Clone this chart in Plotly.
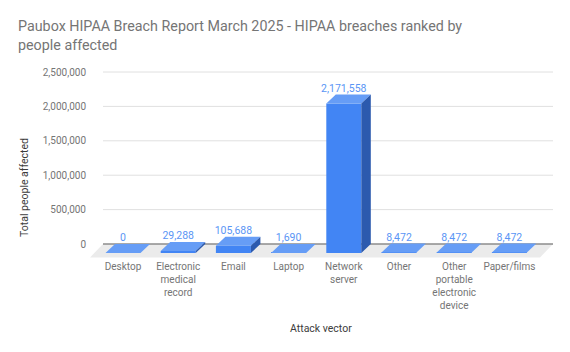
import plotly.graph_objects as go

categories = ["Desktop", "Electronic<br>medical<br>record", "Email", "Laptop",
              "Network<br>server", "Other", "Other<br>portable<br>electronic<br>device", "Paper/films"]
values = [0, 29288, 105688, 1690, 2171558, 8472, 8472, 8472]
y_ticks = [0, 500000, 1000000, 1500000, 2000000, 2500000]
y_ticktext = [f"{t:,}" for t in y_ticks]
labels = [f"{v:,}" for v in values]

W, H = 570, 352
# plot area (px)
Lp, Rp, Tp, Bp = 87, 558, 62, 259
# projection anchors (px)
X0_PX, X_STEP = 123.0, 55.2          # category 0 centre, spacing
Y0_PX, PX_PER_UNIT = 244.0, 172.0 / 2.5e6

x_lo = (Lp - X0_PX) / X_STEP
x_hi = (Rp - X0_PX) / X_STEP
y_lo = (Y0_PX - Bp) / PX_PER_UNIT
y_hi = (Y0_PX - Tp) / PX_PER_UNIT

def xu(px):  # pixel distance -> x units
    return px / X_STEP
def yu(px):  # pixel distance -> y units
    return px / PX_PER_UNIT

hw = xu(17.5)        # half bar width
ddx = xu(9.5)        # bar depth offset
ddy = yu(9.0)
wall_l = xu(103 - X0_PX)
wall_r = xu(553 - X0_PX)
fdx, fdy = xu(13), yu(13.5)

idx = list(range(len(categories)))

fig = go.Figure()

# front faces
fig.add_trace(go.Bar(x=idx, y=values, base=[-ddy] * len(values), width=2 * hw,
                     marker=dict(color="#4285F4", line=dict(width=0)), hoverinfo="skip"))

# top faces
tx, ty = [], []
for i, v in zip(idx, values):
    tx += [i - hw, i + hw, i + hw + ddx, i - hw + ddx, i - hw, None]
    ty += [v - ddy, v - ddy, v, v, v - ddy, None]
fig.add_trace(go.Scatter(x=tx, y=ty, mode="lines", fill="toself", fillcolor="#669DF6",
                         line=dict(width=0, color="#669DF6"), hoverinfo="skip"))
# side faces
sx, sy = [], []
for i, v in zip(idx, values):
    if v <= 0:
        continue
    sx += [i + hw, i + hw + ddx, i + hw + ddx, i + hw, i + hw, None]
    sy += [-ddy, 0, v, v - ddy, -ddy, None]
fig.add_trace(go.Scatter(x=sx, y=sy, mode="lines", fill="toself", fillcolor="#2C5AAE",
                         line=dict(width=0, color="#2C5AAE"), hoverinfo="skip"))

# data labels
fig.add_trace(go.Scatter(x=idx, y=values, mode="text", text=labels, textposition="top center",
                         textfont=dict(family="Roboto", size=10.5, color="#5A95F5"),
                         cliponaxis=False, hoverinfo="skip"))

shapes = []
for t in y_ticks[1:]:
    shapes.append(dict(type="line", xref="x", yref="y", x0=wall_l, x1=wall_r, y0=t, y1=t,
                       line=dict(color="#E0E0E0", width=1), layer="below"))
shapes.append(dict(type="path", xref="x", yref="y", layer="below",
                   path=f"M {wall_l} 0 L {wall_r} 0 L {wall_r - fdx} {-fdy} L {wall_l - fdx} {-fdy} Z",
                   fillcolor="#EBEBEB", line=dict(width=0)))
shapes.append(dict(type="line", xref="x", yref="y", x0=wall_l, x1=wall_r, y0=0, y1=0,
                   line=dict(color="#8C8C8C", width=1.6), layer="below"))

pw, ph = Rp - Lp, Bp - Tp
def pxp(px): return (px - Lp) / pw
def pyp(py): return (Bp - py) / ph

annotations = [
    dict(text="Total people affected", xref="paper", yref="paper", x=pxp(24), y=pyp(188),
         textangle=-90, showarrow=False, xanchor="center", yanchor="middle",
         font=dict(family="Roboto", size=10.5, color="#3C3C3C")),
    dict(text="Attack vector", xref="paper", yref="paper", x=pxp(321), y=pyp(328),
         showarrow=False, xanchor="center", yanchor="middle",
         font=dict(family="Roboto", size=10.5, color="#3C3C3C")),
]

fig.update_layout(
    width=W, height=H,
    margin=dict(l=Lp, r=W - Rp, t=Tp, b=H - Bp, pad=0),
    paper_bgcolor="white", plot_bgcolor="white",
    showlegend=False,
    title=dict(text="Paubox HIPAA Breach Report March 2025 - HIPAA breaches ranked by<br>people affected",
               x=18 / W, xanchor="left", y=1 - 31 / H, yanchor="top",
               font=dict(family="Roboto", size=14.3, color="#757575")),
    xaxis=dict(range=[x_lo, x_hi], tickvals=idx, ticktext=categories, showgrid=False,
               zeroline=False, showline=False, ticks="",
               tickfont=dict(family="Roboto", size=10, color="#757575")),
    yaxis=dict(range=[y_lo, y_hi], tickvals=y_ticks, ticktext=y_ticktext, showgrid=False,
               zeroline=False, showline=False, ticks="",
               tickfont=dict(family="Roboto", size=10, color="#757575")),
    shapes=shapes, annotations=annotations,
)

fig.write_html("out.html")
